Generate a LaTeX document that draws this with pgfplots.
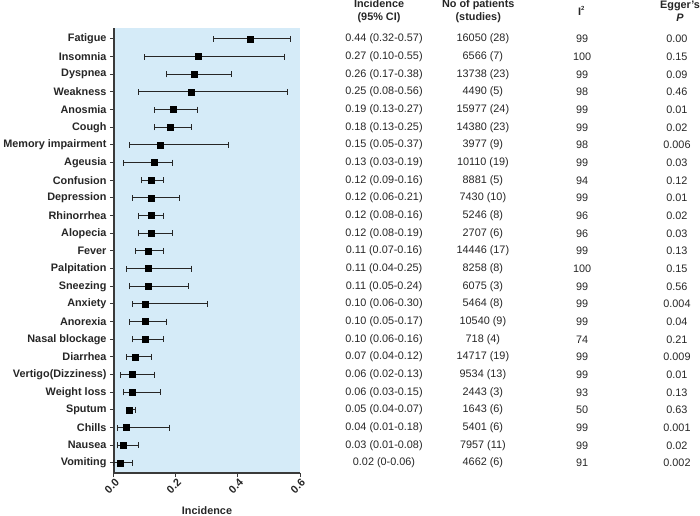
\documentclass[border=0pt]{standalone}
\usepackage{fontspec}
\setmainfont{Liberation Sans}
\usepackage{pgfplots}
\usepackage{pgfplotstable}
\pgfplotsset{compat=1.18}
\definecolor{bgblue}{HTML}{D5EBF8}
\definecolor{axgray}{HTML}{3A3A3A}

\pgfplotstableread[col sep=comma]{
y,est,lo,hi,ci,np,i2,p
25,0.44,0.32,0.57,0.44 (0.32-0.57),16050 (28),99,0.00
24,0.27,0.10,0.55,0.27 (0.10-0.55),6566 (7),100,0.15
23,0.26,0.17,0.38,0.26 (0.17-0.38),13738 (23),99,0.09
22,0.25,0.08,0.56,0.25 (0.08-0.56),4490 (5),98,0.46
21,0.19,0.13,0.27,0.19 (0.13-0.27),15977 (24),99,0.01
20,0.18,0.13,0.25,0.18 (0.13-0.25),14380 (23),99,0.02
19,0.15,0.05,0.37,0.15 (0.05-0.37),3977 (9),98,0.006
18,0.13,0.03,0.19,0.13 (0.03-0.19),10110 (19),99,0.03
17,0.12,0.09,0.16,0.12 (0.09-0.16),8881 (5),94,0.12
16,0.12,0.06,0.21,0.12 (0.06-0.21),7430 (10),99,0.01
15,0.12,0.08,0.16,0.12 (0.08-0.16),5246 (8),96,0.02
14,0.12,0.08,0.19,0.12 (0.08-0.19),2707 (6),96,0.03
13,0.11,0.07,0.16,0.11 (0.07-0.16),14446 (17),99,0.13
12,0.11,0.04,0.25,0.11 (0.04-0.25),8258 (8),100,0.15
11,0.11,0.05,0.24,0.11 (0.05-0.24),6075 (3),99,0.56
10,0.10,0.06,0.30,0.10 (0.06-0.30),5464 (8),99,0.004
9,0.10,0.05,0.17,0.10 (0.05-0.17),10540 (9),99,0.04
8,0.10,0.06,0.16,0.10 (0.06-0.16),718 (4),74,0.21
7,0.07,0.04,0.12,0.07 (0.04-0.12),14717 (19),99,0.009
6,0.06,0.02,0.13,0.06 (0.02-0.13),9534 (13),99,0.01
5,0.06,0.03,0.15,0.06 (0.03-0.15),2443 (3),93,0.13
4,0.05,0.04,0.07,0.05 (0.04-0.07),1643 (6),50,0.63
3,0.04,0.01,0.18,0.04 (0.01-0.18),5401 (6),99,0.001
2,0.03,0.01,0.08,0.03 (0.01-0.08),7957 (11),99,0.02
1,0.02,0.00,0.06,0.02 (0-0.06),4662 (6),91,0.002
}\tbl

\newcommand{\fs}{\fontsize{10.9}{13}\selectfont}

\begin{document}
\begin{tikzpicture}
\useasboundingbox (-114bp,-43bp) rectangle (586bp,473bp);
\begin{axis}[
  at={(0,0)}, anchor=south west,
  scale only axis, width=186bp, height=445bp,
  xmin=0, xmax=0.6, ymin=0.43, ymax=25.62,
  axis lines*=left,
  axis background/.style={fill=bgblue},
  axis line style={axgray, line width=1.5bp},
  xtick={0,0.2,0.4,0.6}, xticklabels={0.0,0.2,0.4,0.6},
  ytick={1,...,25},
  yticklabels={Vomiting,Nausea,Chills,Sputum,Weight loss,Vertigo(Dizziness),Diarrhea,Nasal blockage,Anorexia,Anxiety,Sneezing,Palpitation,Fever,Alopecia,Rhinorrhea,Depression,Confusion,Ageusia,Memory impairment,Cough,Anosmia,Weakness,Dyspnea,Insomnia,Fatigue},
  tick align=outside, major tick length=4bp,
  tick style={axgray, line width=1bp},
  tick label style={font=\fs\bfseries, text=black!85},
  xticklabel style={rotate=45, anchor=east, yshift=-5bp, xshift=3bp},
  xlabel={Incidence},
  xlabel style={font=\fs\bfseries, text=black!85, at={(axis description cs:0.5,0)}, anchor=center, yshift=-38bp},
  clip=false,
  every node near coord/.style={anchor=center, font=\fs, text=black!85},
]
\addplot[black, only marks, mark=square*, mark size=3bp,
  error bars/.cd, x dir=both, x explicit, error mark=|,
  error bar style={line width=1bp, color=black!85},
  error mark options={mark size=3bp, line width=1bp, black!85}]
  table[x=est, y=y, x error plus expr=\thisrow{hi}-\thisrow{est}, x error minus expr=\thisrow{est}-\thisrow{lo}] {\tbl};

\addplot[only marks, mark=*, mark size=0pt, mark options={draw=none,fill=none}, nodes near coords, point meta=explicit symbolic]
  table[x expr=0.871, y=y, meta=ci] {\tbl};
\addplot[only marks, mark=*, mark size=0pt, mark options={draw=none,fill=none}, nodes near coords, point meta=explicit symbolic]
  table[x expr=1.190, y=y, meta=np] {\tbl};
\addplot[only marks, mark=*, mark size=0pt, mark options={draw=none,fill=none}, nodes near coords, point meta=explicit symbolic]
  table[x expr=1.510, y=y, meta=i2] {\tbl};
\addplot[only marks, mark=*, mark size=0pt, mark options={draw=none,fill=none}, nodes near coords, point meta=explicit symbolic]
  table[x expr=1.816, y=y, meta=p] {\tbl};

\node[font=\fs\bfseries, text=black!85, align=center, anchor=center] at (axis cs:0.855,26.56) {Incidence\\(95\% CI)};
\node[font=\fs\bfseries, text=black!85, align=center, anchor=center] at (axis cs:1.175,26.56) {No of patients\\(studies)};
\node[font=\fs\bfseries, text=black!85, anchor=center] at (axis cs:1.507,26.58) {I\raisebox{0.45em}{\fontsize{6}{7}\selectfont 2}};
\node[font=\fs\bfseries, text=black!85, align=center, anchor=center] at (axis cs:1.826,26.56) {Egger's\\\textit{P}};
\end{axis}
\end{tikzpicture}
\end{document}
